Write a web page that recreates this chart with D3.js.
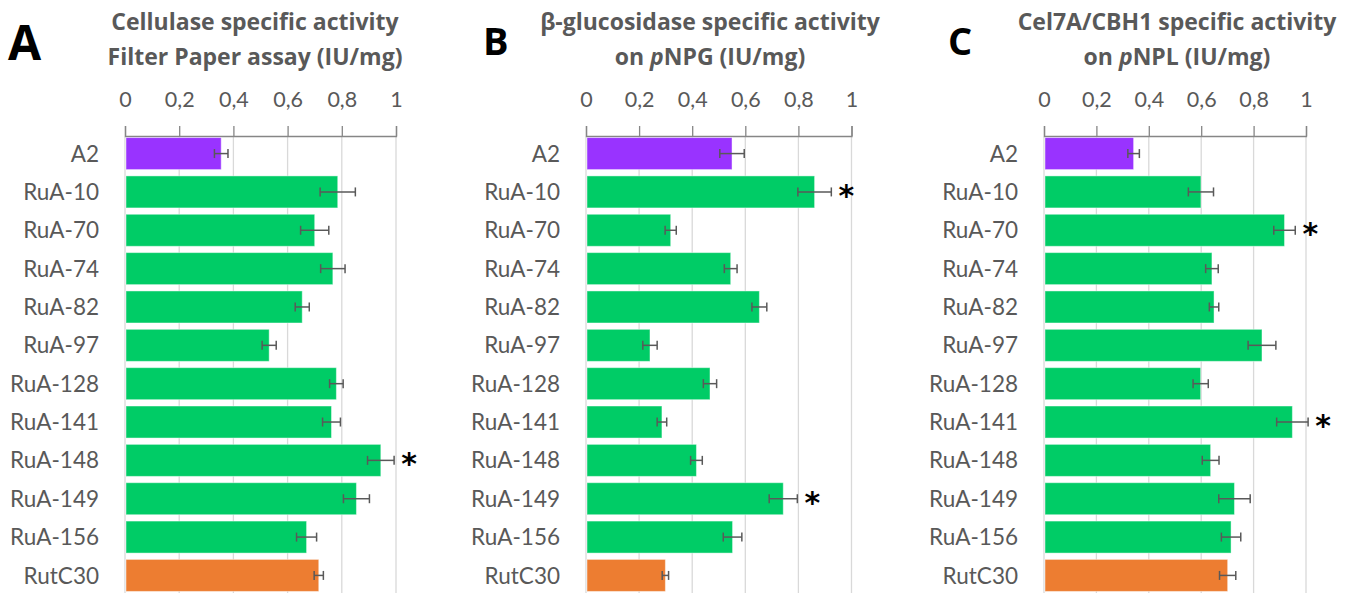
<!DOCTYPE html>
<html>
<head>
<meta charset="utf-8">
<script src="https://cdn.jsdelivr.net/npm/d3@7"></script>
<style>
  body { margin: 0; background: #fff; }
</style>
</head>
<body>
<script>
// strains, same order in all three panels
var strains = ["A2", "RuA-10", "RuA-70", "RuA-74", "RuA-82", "RuA-97",
               "RuA-128", "RuA-141", "RuA-148", "RuA-149", "RuA-156", "RutC30"];

// A: filter paper assay
var fpaValues = [0.355, 0.785, 0.70, 0.767, 0.654, 0.532, 0.780, 0.762, 0.944, 0.854, 0.670, 0.715];
var fpaErrors = [0.025, 0.065, 0.052, 0.045, 0.026, 0.026, 0.025, 0.033, 0.049, 0.048, 0.037, 0.017];
var fpaStars = ["RuA-148"];

// B: beta-glucosidase on pNPG
var bglValues = [0.550, 0.861, 0.319, 0.545, 0.653, 0.241, 0.467, 0.286, 0.416, 0.743, 0.552, 0.299];
var bglErrors = [0.046, 0.063, 0.021, 0.024, 0.028, 0.027, 0.025, 0.018, 0.022, 0.053, 0.035, 0.012];
var bglStars = ["RuA-10", "RuA-149"];

// C: Cel7A/CBH1 on pNPL
var cbhValues = [0.342, 0.599, 0.918, 0.641, 0.649, 0.832, 0.598, 0.948, 0.636, 0.727, 0.714, 0.701];
var cbhErrors = [0.022, 0.048, 0.041, 0.024, 0.018, 0.053, 0.029, 0.060, 0.032, 0.060, 0.037, 0.031];
var cbhStars = ["RuA-70", "RuA-141"];

var tickValues = [0, 0.2, 0.4, 0.6, 0.8, 1];

var svg_width = 1358;
var svg_height = 593;

var purple = "#9933ff", green = "#00cc66", orange = "#ed7d31";
var textGray = "#595959";
var baseFont = "Lato, 'Open Sans', sans-serif";
var titleFont = "'Open Sans', Lato, sans-serif";

var barColor = function(name) {
  if (name === "A2") return purple;
  if (name === "RutC30") return orange;
  return green;
};

var svg = d3.select("body").append("svg")
  .attr("width", svg_width)
  .attr("height", svg_height)
  .style("font-family", baseFont);

// shared row layout
var y = d3.scaleBand()
  .domain(strains)
  .range([134.5, 594.5])
  .paddingInner(0.165)
  .paddingOuter(0.08);

var axis_y = 136;

function drawPanel(p) {
  var x = d3.scaleLinear().domain([0, 1]).range([p.x0, p.x1]);
  var g = svg.append("g");

  // panel letter
  g.append("text")
    .attr("x", p.letterX)
    .attr("y", p.letterY)
    .attr("font-size", p.letterSize)
    .attr("font-weight", "bold")
    .attr("fill", "#000")
    .style("font-family", titleFont)
    .text(p.letter);

  // title, two lines
  g.append("text")
    .attr("x", p.titleX)
    .attr("y", 30)
    .attr("text-anchor", "middle")
    .style("font-family", titleFont)
    .attr("font-size", 23)
    .attr("font-weight", "bold")
    .attr("fill", textGray)
    .text(p.title1);
  var t2 = g.append("text")
    .attr("x", p.titleX)
    .attr("y", 65)
    .attr("text-anchor", "middle")
    .style("font-family", titleFont)
    .attr("font-size", 23)
    .attr("font-weight", "bold")
    .attr("fill", textGray);
  p.title2.forEach(function(part) {
    t2.append("tspan")
      .attr("font-style", part.italic ? "italic" : null)
      .text(part.text);
  });

  // gridlines
  g.selectAll(".grid")
    .data(tickValues)
    .enter().append("line")
    .attr("x1", function(d) { return x(d); })
    .attr("x2", function(d) { return x(d); })
    .attr("y1", axis_y)
    .attr("y2", 594)
    .attr("stroke", "#d9d9d9")
    .attr("stroke-width", 1.3);

  // top axis
  var ax = g.append("g")
    .attr("transform", "translate(0," + axis_y + ")")
    .call(d3.axisTop(x)
      .tickValues(tickValues)
      .tickSize(10)
      .tickPadding(19)
      .tickFormat(function(d) { return String(d).replace(".", ","); }));
  ax.attr("font-family", null);
  ax.select(".domain").attr("stroke", "#868686").attr("stroke-width", 1.3);
  ax.selectAll(".tick line").attr("stroke", "#868686").attr("stroke-width", 1.3);
  ax.selectAll(".tick text")
    .attr("font-size", 21.5)
    .attr("fill", textGray)
    .style("font-family", baseFont);

  // category labels
  g.selectAll(".cat")
    .data(strains)
    .enter().append("text")
    .attr("x", p.x0 - 26)
    .attr("y", function(d) { return y(d) + y.bandwidth() / 2; })
    .attr("dy", "0.36em")
    .attr("text-anchor", "end")
    .attr("font-size", 22.5)
    .attr("fill", textGray)
    .text(function(d) { return d; });

  // bars
  g.selectAll(".bar")
    .data(strains)
    .enter().append("rect")
    .attr("x", x(0) + 1)
    .attr("y", function(d) { return y(d); })
    .attr("width", function(d, i) { return x(p.values[i]) - x(0) - 1; })
    .attr("height", y.bandwidth())
    .attr("fill", function(d) { return barColor(d); })
    .attr("stroke", "rgba(255,255,255,0.45)")
    .attr("stroke-width", 1);

  // error bars
  var cap = 4.5;
  strains.forEach(function(d, i) {
    var cy = y(d) + y.bandwidth() / 2;
    var lo = x(p.values[i] - p.errors[i]);
    var hi = x(p.values[i] + p.errors[i]);
    var eg = g.append("g").attr("stroke", "#595959").attr("stroke-width", 1.5);
    eg.append("line").attr("x1", lo).attr("x2", hi).attr("y1", cy).attr("y2", cy);
    eg.append("line").attr("x1", lo).attr("x2", lo).attr("y1", cy - cap).attr("y2", cy + cap);
    eg.append("line").attr("x1", hi).attr("x2", hi).attr("y1", cy - cap).attr("y2", cy + cap);
  });

  // significance stars
  p.stars.forEach(function(name) {
    var i = strains.indexOf(name);
    g.append("text")
      .attr("x", x(p.values[i] + p.errors[i]) + 15)
      .attr("y", y(name) + y.bandwidth() / 2)
      .attr("dy", 14)
      .attr("text-anchor", "middle")
      .style("font-family", "'DejaVu Sans', sans-serif")
      .attr("font-size", 30)
      .attr("font-weight", "bold")
      .attr("fill", "#000")
      .text("*");
  });
}

drawPanel({
  x0: 125, x1: 396,
  letter: "A", letterX: 8, letterY: 60, letterSize: 48,
  titleX: 255,
  title1: "Cellulase specific activity",
  title2: [{ text: "Filter Paper assay (IU/mg)" }],
  values: fpaValues, errors: fpaErrors, stars: fpaStars
});

drawPanel({
  x0: 586, x1: 851.5,
  letter: "B", letterX: 483, letterY: 55, letterSize: 38,
  titleX: 710,
  title1: "\u03b2-glucosidase specific activity",
  title2: [{ text: "on " }, { text: "p", italic: true }, { text: "NPG (IU/mg)" }],
  values: bglValues, errors: bglErrors, stars: bglStars
});

drawPanel({
  x0: 1044, x1: 1306,
  letter: "C", letterX: 948, letterY: 55, letterSize: 38,
  titleX: 1177,
  title1: "Cel7A/CBH1 specific activity",
  title2: [{ text: "on " }, { text: "p", italic: true }, { text: "NPL (IU/mg)" }],
  values: cbhValues, errors: cbhErrors, stars: cbhStars
});
</script>
</body>
</html>
